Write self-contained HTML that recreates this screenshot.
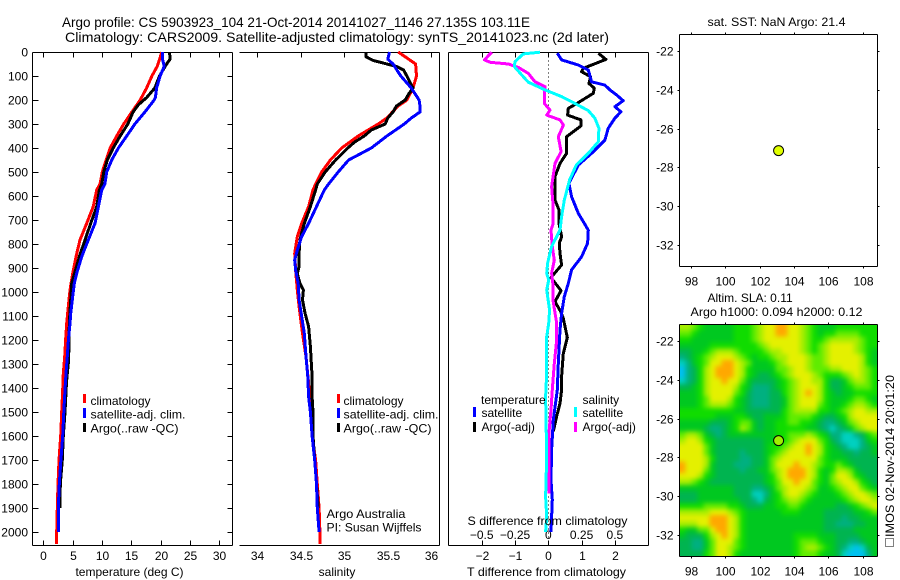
<!DOCTYPE html>
<html lang="en">
<head>
<meta charset="utf-8">
<title>Argo profile CS 5903923_104</title>
<style>
html,body{margin:0;padding:0;background:#fff;}
svg{display:block;font-family:"Liberation Sans",sans-serif;}
text{fill:#000;font-size:12px;}
.t{font-size:14px;}
</style>
</head>
<body>
<svg id="fig" xmlns="http://www.w3.org/2000/svg" width="900" height="580" viewBox="0 0 900 580">
<defs>
<filter id="slaSmooth" x="660" y="300" width="240" height="280" filterUnits="userSpaceOnUse" color-interpolation-filters="sRGB">
<feGaussianBlur stdDeviation="2.4"/>
</filter>
<clipPath id="slaClip"><rect x="679.5" y="324.5" width="198" height="232"/></clipPath>
</defs>
<rect x="0" y="0" width="900" height="580" fill="#fff"/>
<text class="t" x="62" y="27" textLength="468" lengthAdjust="spacingAndGlyphs">Argo profile: CS 5903923_104 21-Oct-2014 20141027_1146 27.135S 103.11E</text>
<text class="t" x="65" y="42" textLength="544" lengthAdjust="spacingAndGlyphs">Climatology: CARS2009. Satellite-adjusted climatology: synTS_20141023.nc (2d later)</text>
<g id="p1"></g>
<g id="p2"></g>
<g id="p3"></g>
<g id="m1"></g>
<g id="m2"></g>

<text x="129.5" y="576" text-anchor="middle">temperature (deg C)</text>
<text x="337" y="576" text-anchor="middle">salinity</text>
<text x="467.5" y="525" textLength="160" lengthAdjust="spacingAndGlyphs">S difference from climatology</text>
<text x="467" y="576" textLength="159" lengthAdjust="spacingAndGlyphs">T difference from climatology</text>

<g>
<rect x="83" y="394" width="3" height="9" fill="#f00"/>
<text x="90.5" y="405">climatology</text>
<rect x="83" y="408" width="3" height="10" fill="#00f"/>
<text x="90.5" y="418.5" textLength="95" lengthAdjust="spacingAndGlyphs">satellite-adj. clim.</text>
<rect x="83" y="423" width="3" height="9" fill="#000"/>
<text x="90.5" y="432.5" textLength="88" lengthAdjust="spacingAndGlyphs">Argo(..raw -QC)</text>
</g>
<g>
<rect x="337" y="394" width="3" height="9" fill="#f00"/>
<text x="343.5" y="405">climatology</text>
<rect x="337" y="408" width="3" height="10" fill="#00f"/>
<text x="343.5" y="418.5" textLength="95" lengthAdjust="spacingAndGlyphs">satellite-adj. clim.</text>
<rect x="337" y="423" width="3" height="9" fill="#000"/>
<text x="343.5" y="432.5" textLength="88" lengthAdjust="spacingAndGlyphs">Argo(..raw -QC)</text>
<text x="326.5" y="518" textLength="79" lengthAdjust="spacingAndGlyphs">Argo Australia</text>
<text x="326.5" y="531.5" textLength="95" lengthAdjust="spacingAndGlyphs">PI: Susan Wijffels</text>
</g>
<g>
<text x="481" y="404">temperature</text>
<rect x="473" y="407" width="3" height="10" fill="#00f"/>
<text x="481.5" y="417">satellite</text>
<rect x="473" y="422" width="3" height="10" fill="#000"/>
<text x="481.5" y="431">Argo(-adj)</text>
<text x="582.5" y="404">salinity</text>
<rect x="574" y="407" width="3" height="10" fill="#0ff"/>
<text x="582.5" y="417">satellite</text>
<rect x="574" y="422" width="3" height="10" fill="#f0f"/>
<text x="582.5" y="431">Argo(-adj)</text>
</g>

<text x="707.5" y="26" textLength="138" lengthAdjust="spacingAndGlyphs">sat. SST: NaN Argo: 21.4</text>
<text x="707.5" y="302">Altim. SLA: 0.11</text>
<text x="690.5" y="316" textLength="172" lengthAdjust="spacingAndGlyphs">Argo h1000: 0.094 h2000: 0.12</text>
<rect x="885.5" y="538.5" width="8" height="8" fill="none" stroke="#000" stroke-width="1" stroke-dasharray="1 1"/>
<text transform="translate(894,537) rotate(-90)" textLength="162" lengthAdjust="spacingAndGlyphs">IMOS 02-Nov-2014 20:01:20</text>
</svg>

<script>
// ---------- tick data ----------
const depthTicks = [0,100,200,300,400,500,600,700,800,900,1000,1100,1200,1300,1400,1500,1600,1700,1800,1900,2000];
const tempTicks = [0,5,10,15,20,25,30];
const salTicks = [34,34.5,35,35.5,36];
const salTickLabels = ['34','34.5','35','35.5','36'];
const dTTicks = [-2,-1,0,1,2];
const dTTickLabels = ['\u22122','\u22121','0','1','2'];
const dSTicks = [-0.5,-0.25,0,0.25,0.5];
const dSTickLabels = ['\u22120.5','\u22120.25','0','0.25','0.5'];
const lonTicks = [98,100,102,104,106,108];
const latTicks = [-22,-24,-26,-28,-30,-32];
const profileLon = 103.11;
const profileLat = -27.135;

// ---------- temperature profiles ----------
const tempClimDepth = [0,60,100,150,200,250,300,350,400,450,500,550,575,644,714,783,853,922,992,1061,1131,1200,1269,1339,1408,1500,1600,1700,1800,1900,2000,2050];
const tempClimValues = [20.2,19.4,18.5,17.6,16.5,15.1,13.7,12.5,11.4,10.7,10.05,9.66,9.1,8.5,7.4,6.25,5.57,5,4.55,4.26,3.98,3.8,3.64,3.41,3.3,3.13,2.96,2.67,2.5,2.39,2.28,2.25];
const tempSatDepth = [0,30,60,100,150,190,200,250,300,350,400,450,500,550,575,644,714,783,853,922,964,1019,1089,1131,1200,1269,1339,1408,1500,1600,1700,1800,1900,2000];
const tempSatValues = [20.3,20.3,20.6,19.9,19.3,19.1,18.9,17.3,15.6,14.2,12.8,11.65,10.8,10.5,9.95,9.38,8.8,7.67,6.54,5.69,5.28,5,4.67,4.55,4.27,4.09,3.87,3.7,3.5,3.3,3,2.73,2.56,2.56];
const tempArgoDepth = [0,30,50,100,150,190,220,250,300,350,400,450,500,550,575,644,714,783,853,915,964,1033,1131,1228,1297,1366,1400,1500,1600,1700,1800,1900];
const tempArgoValues = [21.5,21.6,21,19.8,19,17.6,16.2,15.3,14.4,13.1,11.9,10.9,10.3,9.95,9.55,9.1,8.07,7.1,6.13,5.4,4.84,4.67,4.43,4.38,4.26,3.98,3.9,3.7,3.4,3.24,2.9,2.85];

// ---------- salinity profiles ----------
const salClimDepth = [0,30,50,100,150,200,225,275,300,350,400,450,500,550,575,644,714,769,839,908,992,1089,1172,1269,1380,1500,1600,1700,1800,1900,2000,2050];
const salClimValues = [35.62,35.74,35.82,35.83,35.79,35.72,35.62,35.49,35.39,35.16,34.97,34.84,34.74,34.67,34.64,34.59,34.51,34.46,34.43,34.44,34.46,34.49,34.52,34.56,34.59,34.61,34.63,34.67,34.69,34.71,34.72,34.72];
const salSatDepth = [0,30,50,100,150,200,225,250,275,300,350,400,425,450,500,550,575,644,714,769,825,867,908,964,1033,1103,1172,1269,1353,1436,1500,1600,1700,1800,1900,2000];
const salSatValues = [35.52,35.5,35.56,35.65,35.77,35.86,35.87,35.87,35.77,35.69,35.49,35.31,35.18,35.05,34.93,34.82,34.77,34.68,34.59,34.51,34.46,34.43,34.44,34.47,34.48,34.51,34.54,34.56,34.58,34.59,34.61,34.63,34.66,34.68,34.69,34.71];
const salArgoDepth = [0,20,35,50,60,75,100,130,150,175,200,225,250,275,300,325,350,375,400,450,500,550,575,644,714,783,839,894,922,964,992,1033,1089,1144,1228,1353,1436,1500,1600,1700,1800,1900];
const salArgoValues = [35.25,35.25,35.33,35.49,35.6,35.68,35.72,35.76,35.79,35.74,35.7,35.6,35.56,35.5,35.47,35.31,35.23,35.12,35.04,34.9,34.78,34.69,34.67,34.61,34.54,34.49,34.48,34.48,34.46,34.49,34.53,34.52,34.55,34.59,34.61,34.63,34.63,34.64,34.64,34.66,34.68,34.7];

// ---------- difference profiles ----------
const dTSatDepth = [5,33,54,75,124,138,158,179,203,228,249,276,318,367,381,422,471,547,603,672,742,797,853,908,964,1019,1089,1158,1297,1408,1533,1658,1783,1866,2000];
const dTSatValues = [0.27,0.4,0.9,1.2,1.3,1.7,1.85,2.05,2.25,2,2.18,2,1.8,1.7,1.6,1.3,0.9,0.62,0.7,0.9,1.2,1.18,1,0.7,0.6,0.48,0.4,0.35,0.3,0.27,0.15,0.1,0.08,0.12,0.08];
const dTArgoDepth = [5,31,68,82,103,131,151,172,211,235,263,283,308,353,422,464,519,617,658,714,769,797,839,887,940,994,1040,1081,1110,1189,1256,1353,1408,1464,1519,1581];
const dTArgoValues = [1.5,1.73,1.05,1,1.27,1.22,1.38,1.35,0.9,0.6,0.58,0.98,0.98,0.55,0.55,0.35,0.2,0.2,0.32,0.32,0.4,0.33,0.35,0.4,0.08,0.38,0.2,0.37,0.45,0.57,0.45,0.4,0.4,0.35,0.25,0.15];
const dSSatDepth = [1,8,40,61,103,126,158,186,211,244,276,318,374,422,471,533,617,686,742,811,880,922,950,992,1075,1131,1186,1339,1436,1686,1853,1936,2000];
const dSSatValues = [-0.062,-0.188,-0.25,-0.255,-0.188,-0.15,-0.025,0.1,0.188,0.3,0.35,0.38,0.375,0.3,0.21,0.16,0.12,0.1,0.088,0.025,-0.005,-0.012,0.003,-0.012,0.01,0.003,-0.012,-0.012,-0.02,-0.012,-0.02,-0.012,-0.02];
const dSArgoDepth = [1,33,43,50,64,89,124,144,186,214,242,263,283,304,353,415,464,561,644,714,742,811,867,922,978,1040,1131,1200,1297,1408,1491,1575,1755,1839];
const dSArgoValues = [-0.425,-0.48,-0.435,-0.3,-0.225,-0.15,-0.1,-0.025,-0.03,-0.03,0.013,-0.012,0.088,0.113,0.075,0.096,0.05,0.025,0.037,0.037,0.02,0.03,0.045,0.025,0.037,0.037,0.063,0.063,0.045,0.03,0.02,0.007,0.005,0.005];

// ---------- sea level anomaly grid (colour class per cell, north to south) ----------
const slaGrid = [
[7,7,6,5,4,4,4,4,4,5,5,5,6,7,8,8,9,9,8,8,7,6,5,4,4,4,5,5,5,5,5,5,5],
[6,6,5,4,4,4,4,4,4,5,5,5,6,7,8,8,9,9,8,8,7,6,5,4,5,5,6,6,6,6,5,5,5],
[5,5,4,4,4,4,4,4,4,5,5,5,6,7,8,8,8,8,8,8,7,6,5,5,6,7,7,7,7,7,6,5,5],
[4,4,4,4,4,5,5,5,5,5,5,5,5,6,7,8,8,8,8,8,7,6,5,6,7,8,8,8,8,7,6,5,5],
[3,3,4,4,5,6,7,7,7,6,5,5,5,5,6,7,7,8,8,8,7,6,5,6,7,8,8,8,8,7,6,5,4],
[2,3,4,5,6,7,8,8,8,7,6,5,4,5,5,6,7,7,8,8,8,7,6,6,7,8,8,8,8,8,7,5,4],
[1,2,4,5,6,8,8,9,9,8,7,6,4,4,4,5,6,7,8,8,8,7,6,6,7,8,8,8,8,8,7,5,4],
[0,2,3,5,7,8,9,9,9,8,7,5,4,4,4,4,6,6,7,8,8,7,6,6,6,7,7,8,8,8,7,6,5],
[0,2,3,5,7,8,9,9,9,8,7,5,4,3,3,4,5,6,7,8,8,8,7,6,5,5,5,6,7,8,7,6,5],
[1,2,3,5,7,8,8,9,8,8,6,4,3,3,3,3,4,5,6,7,8,8,7,7,5,3,3,4,6,7,7,6,5],
[3,3,4,5,7,8,8,8,8,7,5,4,2,2,2,3,4,5,6,7,8,8,8,7,5,3,3,4,5,6,6,6,5],
[4,4,4,5,7,8,8,8,8,6,5,3,2,2,2,3,3,5,6,7,8,9,8,7,5,4,3,4,4,5,5,5,5],
[4,4,4,5,6,8,8,8,7,5,4,3,2,2,2,3,3,4,6,7,8,8,8,7,5,4,4,4,5,6,6,5,4],
[4,4,4,5,6,7,7,7,6,5,4,3,2,2,2,3,3,4,6,7,8,8,8,6,5,4,4,5,6,7,7,6,5],
[5,5,5,5,5,5,5,5,5,4,4,3,3,3,3,3,3,5,6,7,7,7,7,5,5,4,5,6,7,8,8,7,7],
[5,5,5,5,5,5,4,4,4,5,5,4,3,3,4,4,4,5,6,6,6,6,5,4,3,3,4,5,7,8,8,8,8],
[4,4,4,4,4,3,3,3,4,5,6,6,4,3,4,4,5,5,6,6,5,5,4,3,2,2,3,4,6,7,8,8,8],
[4,4,4,4,3,2,2,3,4,5,7,6,4,3,4,4,5,5,5,5,5,4,4,3,2,1,2,3,4,6,7,8,8],
[6,7,7,6,4,3,2,3,4,4,4,4,4,4,4,4,5,5,6,6,6,7,6,5,4,2,2,1,1,2,3,5,6],
[7,8,8,7,5,4,3,3,3,3,3,3,3,3,4,4,5,5,6,7,8,8,8,6,5,3,2,1,1,1,2,4,5],
[8,8,8,8,6,4,3,3,3,3,3,3,3,3,4,5,5,6,7,8,8,9,8,7,5,4,3,2,1,1,2,3,4],
[8,8,8,8,6,4,3,3,3,3,2,3,3,3,4,5,6,7,8,8,8,9,8,7,5,4,4,3,3,2,3,3,4],
[8,8,8,8,7,5,3,3,3,3,2,2,3,3,4,6,7,8,8,8,8,8,8,6,5,4,4,4,3,3,3,3,3],
[9,8,8,8,7,4,3,3,3,2,2,2,3,3,4,6,8,8,8,9,8,8,7,6,5,5,6,5,4,3,3,3,3],
[9,8,8,8,6,4,3,3,3,3,2,3,3,4,4,6,7,8,9,9,9,8,7,5,4,5,7,7,6,4,3,3,3],
[8,8,8,7,5,4,3,3,3,3,3,3,3,3,4,5,7,8,9,9,9,8,7,5,4,6,8,8,7,5,4,3,3],
[7,7,6,5,4,3,3,3,3,3,3,3,3,3,4,5,6,8,8,9,8,8,6,5,4,6,7,8,8,7,5,4,3],
[4,4,4,4,4,4,4,4,4,3,3,3,2,2,3,4,6,7,8,8,8,7,6,4,4,5,6,7,8,8,6,5,4],
[3,3,3,4,4,4,4,4,4,3,3,3,1,1,2,4,5,7,8,8,7,6,5,4,4,4,5,6,7,8,8,7,6],
[3,3,3,4,4,4,4,4,4,4,3,3,2,1,3,4,5,6,7,7,6,5,4,4,4,4,4,5,6,7,8,8,7],
[5,5,5,5,6,6,6,6,5,5,4,3,3,3,4,4,5,5,6,6,5,4,4,4,4,4,3,3,4,5,6,7,8],
[7,7,7,7,7,8,8,8,7,6,5,4,4,4,4,4,4,5,5,5,4,4,4,4,3,3,3,3,3,4,4,5,6],
[8,8,8,8,8,9,9,9,8,7,5,4,4,4,4,4,4,4,4,4,4,4,4,4,3,3,3,2,3,3,4,4,4],
[7,7,7,8,8,9,9,9,8,7,5,4,4,4,4,4,4,4,4,4,4,4,4,4,3,3,2,2,2,3,3,4,4],
[5,4,4,6,6,8,9,9,8,7,5,4,4,4,4,4,4,4,4,4,4,4,4,4,3,3,3,3,3,4,4,4,4],
[4,3,3,3,5,7,8,9,8,7,5,4,4,4,4,4,4,4,4,5,5,5,5,4,4,4,3,3,3,3,4,4,4],
[3,3,2,2,4,6,8,8,8,6,5,4,4,4,4,4,4,4,4,5,6,6,6,5,4,4,3,3,2,2,3,4,4],
[3,3,2,2,4,6,8,8,7,6,5,4,4,4,4,4,4,4,4,5,6,7,7,6,5,4,3,2,1,0,1,3,4],
[3,3,3,3,5,6,8,8,7,5,4,4,4,4,4,4,4,4,4,5,6,6,6,5,4,4,3,1,0,0,0,2,4]
];

// ---------- axis functions ----------
const yDepth = d => 52 + d * 0.24;
const xTemp = v => 43.3 + v * 5.87;
const xSal = v => 257.3 + (v - 34) * 87;
const xDT = v => 548.3 + v * 33.3;
const xDS = v => 548.3 + v * 133.2;
const xLon = v => 690.7 + (v - 98) * 17.2;
const yLatTop = v => 50.7 + (-22 - v) * 19.46;
const yLatBot = v => 340.7 + (-22 - v) * 19.46;

const NS = 'http://www.w3.org/2000/svg';
function mk(parent, tag, attrs) {
  const el = document.createElementNS(NS, tag);
  for (const k in attrs) el.setAttribute(k, attrs[k]);
  parent.appendChild(el);
  return el;
}
function axisLine(parent, x1, y1, x2, y2, name) {
  const el = mk(parent, 'line', {x1: x1, y1: y1, x2: x2, y2: y2, stroke: '#000', 'stroke-width': 1, 'shape-rendering': 'crispEdges'});
  
  
  return el;
}
function label(parent, x, y, s, anchor, name) {
  const el = mk(parent, 'text', {x: x, y: y, 'text-anchor': anchor});
  el.textContent = s;
  
  
  return el;
}
function profile(parent, depths, values, xf, color, name) {
  const pts = depths.map((d, i) => xf(values[i]).toFixed(1) + ',' + yDepth(d).toFixed(1)).join(' ');
  const el = mk(parent, 'polyline', {points: pts, fill: 'none', stroke: color, 'stroke-width': 3, 'stroke-linejoin': 'round', 'shape-rendering': 'crispEdges'});
  
  
  return el;
}

const TOP = 52.5, BOT = 545.5;

// ---------- temperature panel ----------
const p1 = document.getElementById('p1');
axisLine(p1, 32.5, TOP, 232.5, TOP, 'temperature-top-axis');
axisLine(p1, 32.5, BOT, 232.5, BOT, 'temperature-bottom-axis');
axisLine(p1, 32.5, TOP, 32.5, BOT, 'temperature-depth-axis');
axisLine(p1, 232.5, TOP, 232.5, BOT, 'temperature-right-axis');
depthTicks.forEach(d => {
  const y = Math.round(yDepth(d)) + 0.5;
  axisLine(p1, 32.5, y, 38.5, y, 'depth-tick');
  axisLine(p1, 227.5, y, 232.5, y, 'depth-tick-right');
  label(p1, 28, y + 4, String(d), 'end', 'depth-tick-label');
});
tempTicks.forEach(v => {
  const x = Math.round(xTemp(v)) + 0.5;
  axisLine(p1, x, TOP, x, TOP + 5, 'temperature-tick-top');
  axisLine(p1, x, BOT - 5, x, BOT, 'temperature-tick-bottom');
  label(p1, x, 560, String(v), 'middle', 'temperature-tick-label');
});
profile(p1, tempClimDepth, tempClimValues, xTemp, '#f00', 'temperature-climatology-line');
profile(p1, tempArgoDepth, tempArgoValues, xTemp, '#000', 'temperature-argo-line');
profile(p1, tempSatDepth, tempSatValues, xTemp, '#00f', 'temperature-satellite-line');

// ---------- salinity panel ----------
const p2 = document.getElementById('p2');
axisLine(p2, 239.5, TOP, 439.5, TOP, 'salinity-top-axis');
axisLine(p2, 239.5, BOT, 439.5, BOT, 'salinity-bottom-axis');
axisLine(p2, 439.5, TOP, 439.5, BOT, 'salinity-right-axis');
salTicks.forEach((v, i) => {
  const x = Math.round(xSal(v)) + 0.5;
  axisLine(p2, x, TOP, x, TOP + 5, 'salinity-tick-top');
  label(p2, x, 560, salTickLabels[i], 'middle', 'salinity-tick-label');
});
profile(p2, salClimDepth, salClimValues, xSal, '#f00', 'salinity-climatology-line');
profile(p2, salArgoDepth, salArgoValues, xSal, '#000', 'salinity-argo-line');
profile(p2, salSatDepth, salSatValues, xSal, '#00f', 'salinity-satellite-line');

// ---------- difference panel ----------
const p3 = document.getElementById('p3');
axisLine(p3, 448.5, TOP, 648.5, TOP, 'difference-top-axis');
axisLine(p3, 448.5, BOT, 648.5, BOT, 'difference-bottom-axis');
axisLine(p3, 448.5, TOP, 448.5, BOT, 'difference-left-axis');
axisLine(p3, 648.5, TOP, 648.5, BOT, 'difference-right-axis');
const zeroLine = axisLine(p3, 548.5, TOP, 548.5, BOT, 'zero-difference-line');
zeroLine.setAttribute('stroke-dasharray', '1 3');
dTTicks.forEach((v, i) => {
  const x = Math.round(xDT(v)) + 0.5;
  axisLine(p3, x, TOP, x, TOP + 5, 't-difference-tick-top');
  axisLine(p3, x, BOT - 5, x, BOT, 't-difference-tick-bottom');
  label(p3, x, 560, dTTickLabels[i], 'middle', 't-difference-tick-label');
});
dSTicks.forEach((v, i) => {
  label(p3, xDS(v), 539, dSTickLabels[i], 'middle', 's-difference-tick-label');
});
profile(p3, dTArgoDepth, dTArgoValues, xDT, '#000', 't-difference-argo-line');
profile(p3, dTSatDepth, dTSatValues, xDT, '#00f', 't-difference-satellite-line');
profile(p3, dSArgoDepth, dSArgoValues, xDS, '#f0f', 's-difference-argo-line');
profile(p3, dSSatDepth, dSSatValues, xDS, '#0ff', 's-difference-satellite-line');

// ---------- maps ----------
function mapFrame(parent, top, bottom, yf, prefix) {
  const L = 679.5, R = 877.5;
  axisLine(parent, L, top, R, top, prefix + '-top-axis');
  axisLine(parent, L, bottom, R, bottom, prefix + '-bottom-axis');
  axisLine(parent, L, top, L, bottom, prefix + '-left-axis');
  axisLine(parent, R, top, R, bottom, prefix + '-right-axis');
  lonTicks.forEach(v => {
    const x = Math.round(xLon(v)) + 0.5;
    axisLine(parent, x, top - 2, x, top, prefix + '-lon-tick-top');
    axisLine(parent, x, bottom, x, bottom + 2, prefix + '-lon-tick-bottom');
    label(parent, x, bottom + 19, String(v), 'middle', prefix + '-lon-tick-label');
  });
  latTicks.forEach(v => {
    const y = Math.round(yf(v)) + 0.5;
    axisLine(parent, L - 2, y, L, y, prefix + '-lat-tick-left');
    axisLine(parent, R, y, R + 2, y, prefix + '-lat-tick-right');
    label(parent, 673.5, y + 4, String(v), 'end', prefix + '-lat-tick-label');
  });
}
function marker(parent, cy, fill, name) {
  const el = mk(parent, 'circle', {cx: xLon(profileLon), cy: cy, r: 5, fill: fill, stroke: '#000', 'stroke-width': 1});
  
  
}

const m1 = document.getElementById('m1');
mapFrame(m1, 34.5, 266.5, yLatTop, 'sst-map');
marker(m1, yLatTop(profileLat), '#e0ff00', 'sst-profile-marker');

const slaColors = ['#00c0f0', '#00d0c0', '#00b080', '#00b450', '#00c820', '#10dc00', '#60ec00', '#a8ee00', '#e4f000', '#ffa800'];
const m2 = document.getElementById('m2');
const heatClip = mk(m2, 'g', {'clip-path': 'url(#slaClip)'});


const heat = mk(heatClip, 'g', {'shape-rendering': 'crispEdges', filter: 'url(#slaSmooth)'});


const cellW = 198 / slaGrid[0].length, cellH = 232 / slaGrid.length;
const edgeBleed = 12;
slaGrid.forEach((row, r) => {
  row.forEach((v, c) => {
    const padL = c === 0 ? edgeBleed : 0;
    const padR = c === row.length - 1 ? edgeBleed : 0;
    const padT = r === 0 ? edgeBleed : 0;
    const padB = r === slaGrid.length - 1 ? edgeBleed : 0;
    const cell = mk(heat, 'rect', {
      x: (679.5 + c * cellW - padL).toFixed(2),
      y: (324.5 + r * cellH - padT).toFixed(2),
      width: (cellW + 0.5 + padL + padR).toFixed(2),
      height: (cellH + 0.5 + padT + padB).toFixed(2),
      fill: slaColors[Math.max(0, Math.min(9, Math.round(v)))]
    });
    
    
  });
});
mapFrame(m2, 324.5, 556.5, yLatBot, 'sla-map');
marker(m2, yLatBot(profileLat), '#a0f000', 'sla-profile-marker');
</script>
</body>
</html>
